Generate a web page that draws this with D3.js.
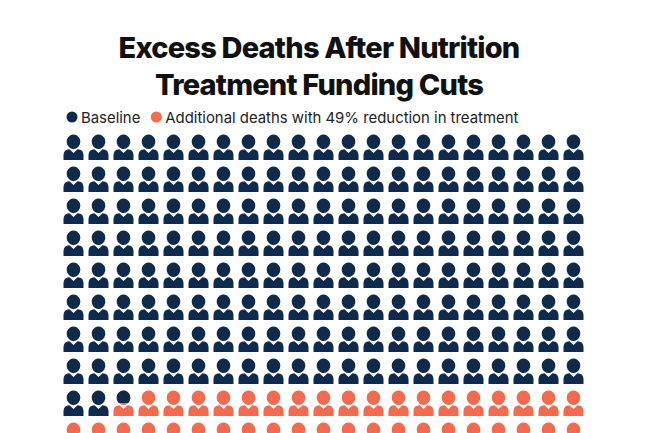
<!DOCTYPE html>
<html><head><meta charset="utf-8">
<script src="https://cdn.jsdelivr.net/npm/d3@7"></script>
<style>body{margin:0;background:#fff}svg{display:block}</style>
</head><body><svg id="viz" width="650" height="433"></svg>
<script>
var titleLines = ["Excess Deaths After Nutrition", "Treatment Funding Cuts"];
var seriesNames = ["Baseline", "Additional deaths with 49% reduction in treatment"];
var seriesColors = ["#0f2a4a", "#f26b50"];
var seriesValues = [170.5, 39.5]; // icons
var nCols = 21;

var svg = d3.select("#viz");

svg.selectAll("text.title").data(titleLines).enter().append("text")
  .attr("x", 319).attr("y", function(d, i) { return 58 + i * 37; })
  .attr("text-anchor", "middle")
  .style("font-family", "Inter").style("font-weight", 800).style("font-size", "29px")
  .style("letter-spacing", "-0.8px").attr("fill", "#111").text(function(d) { return d; });

var lx = 72;
seriesNames.forEach(function(n, i) {
  svg.append("circle").attr("cx", lx).attr("cy", 117).attr("r", 5.5).attr("fill", seriesColors[i]);
  var t = svg.append("text").attr("x", lx + 9).attr("y", 122.5)
    .style("font-family", "Inter").style("font-size", "14.9px").attr("fill", "#222").text(n);
  lx += t.node().getComputedTextLength() + 25;
});

var total = d3.sum(seriesValues);
var nIcons = Math.ceil(total);
var nRows = Math.ceil(nIcons / nCols);
var x = d3.scaleBand().domain(d3.range(nCols)).range([61, 586]);
var y = d3.scaleBand().domain(d3.range(nRows)).range([134, 134 + 32 * nRows]);

var icon = "M10,0.5a6.8,7.2 0 1,1 -0.01,0Z" +
  "M0,26 L0,21 Q0,15.5 6,15.2 L10,19 L14,15.2 Q20,15.5 20,21 L20,26Z";

var defs = svg.append("defs");
var g = svg.append("g");
var base = seriesValues[0];
d3.range(nIcons).forEach(function(i) {
  var c = i % nCols, r = Math.floor(i / nCols);
  var tx = x(c) + (x.bandwidth() - 20) / 2, ty = y(r);
  var frac = Math.max(0, Math.min(1, base - i));
  var ig = g.append("g").attr("transform", "translate(" + tx + "," + ty + ")");
  if (frac > 0 && frac < 1) {
    var id = "clip" + i;
    defs.append("clipPath").attr("id", id).append("rect").attr("width", 20).attr("height", 26 * frac);
    ig.append("path").attr("d", icon).attr("fill", seriesColors[1]);
    ig.append("path").attr("d", icon).attr("fill", seriesColors[0]).attr("clip-path", "url(#" + id + ")");
  } else {
    ig.append("path").attr("d", icon).attr("fill", frac >= 1 ? seriesColors[0] : seriesColors[1]);
  }
});
</script></body></html>
